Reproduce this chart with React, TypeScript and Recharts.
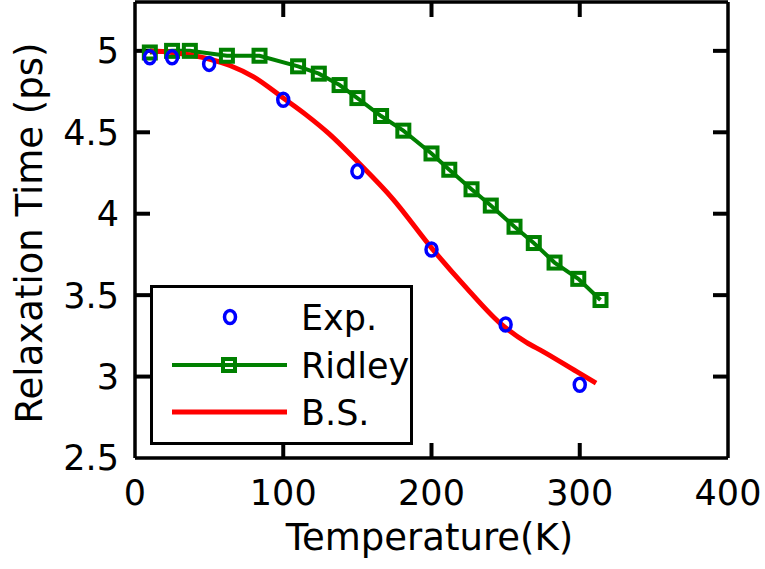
import React from 'react';
import { ComposedChart, Line, XAxis, YAxis, ReferenceLine } from 'recharts';

// Temperature (K) and relaxation time (ps)
const expT = [10, 25, 50, 100, 150, 200, 250, 300];
const expTau = [4.96, 4.96, 4.92, 4.7, 4.26, 3.78, 3.32, 2.95];

const ridleyT = [10, 25, 37, 62, 84, 110, 124, 138, 150, 166, 181, 200, 212, 227, 240, 256, 269, 283, 299, 314];
const ridleyTau = [4.99, 5.0, 5.0, 4.97, 4.97, 4.905, 4.86, 4.79, 4.71, 4.6, 4.51, 4.37, 4.27, 4.15, 4.05, 3.92, 3.82, 3.7, 3.6, 3.47];

const bsT = [10, 25, 40, 50, 64, 80, 100, 115, 131, 150, 174, 200, 224, 246, 264, 275, 298, 311];
const bsTau = [5.0, 4.99, 4.97, 4.95, 4.91, 4.84, 4.71, 4.61, 4.49, 4.32, 4.09, 3.79, 3.54, 3.33, 3.21, 3.155, 3.03, 2.96];

const xTicks = [0, 100, 200, 300, 400];
const yTicks = [2.5, 3, 3.5, 4, 4.5, 5];
const xDomain = [0, 400];
const yDomain = [2.5, 5.3];

const legendLabels = ['Exp.', 'Ridley', 'B.S.'];

const expData = expT.map((t, i) => ({ t, tau: expTau[i] }));
const ridleyData = ridleyT.map((t, i) => ({ t, tau: ridleyTau[i] }));
const bsData = bsT.map((t, i) => ({ t, tau: bsTau[i] }));

const FONT = 'DejaVu Sans';
const GREEN = '#008000';
const BLUE = '#0000ff';
const RED = '#ff0000';

// layout
const W = 765;
const H = 569;
const M = { top: 1, right: 36, bottom: 0, left: 0 };
const Y_AXIS_W = 135;
const X_AXIS_H = 111;
const TOP_H = 1;
const RIGHT_W = 1;
const PLOT_W = W - M.left - M.right - Y_AXIS_W - RIGHT_W;
const PLOT_H = H - M.top - M.bottom - X_AXIS_H - TOP_H;
const TICK_PX = 15;
const TICK_W = 4;
const dxTick = (TICK_PX * (xDomain[1] - xDomain[0])) / PLOT_W;
const dyTick = (TICK_PX * (yDomain[1] - yDomain[0])) / PLOT_H;

const innerX = xTicks.filter((v) => v > xDomain[0] && v < xDomain[1]);
const innerY = yTicks.filter((v) => v > yDomain[0] && v < yDomain[1]);

const tickSegments = [
  ...innerX.map((v) => ({ id: 'xb' + v, seg: [{ x: v, y: yDomain[0] }, { x: v, y: yDomain[0] + dyTick }] })),
  ...innerX.map((v) => ({ id: 'xt' + v, seg: [{ x: v, y: yDomain[1] }, { x: v, y: yDomain[1] - dyTick }] })),
  ...innerY.map((v) => ({ id: 'yl' + v, seg: [{ x: xDomain[0], y: v }, { x: xDomain[0] + dxTick, y: v }] })),
  ...innerY.map((v) => ({ id: 'yr' + v, seg: [{ x: xDomain[1], y: v }, { x: xDomain[1] - dxTick, y: v }] })),
];

const BottomTick = (p: any) => (
  <text x={p.x} y={p.y} dy="0.71em" textAnchor="middle" fontSize={35} fontFamily={FONT} fill="#000">
    {p.payload.value}
  </text>
);

const LeftTick = (p: any) => (
  <text x={p.x} y={p.y} dy="0.355em" textAnchor="end" fontSize={35} fontFamily={FONT} fill="#000">
    {p.payload.value}
  </text>
);

const CircleDot = (p: any) => {
  if (p.cx == null || p.cy == null) return <g key={p.index} />;
  return <ellipse key={p.index} cx={p.cx} cy={p.cy} rx={5.5} ry={6.5} fill="none" stroke={BLUE} strokeWidth={3.5} />;
};

const SquareDot = (p: any) => {
  if (p.cx == null || p.cy == null) return <g key={p.index} />;
  return (
    <rect
      key={p.index}
      x={p.cx - 6}
      y={p.cy - 6}
      width={12}
      height={12}
      fill="none"
      stroke={GREEN}
      strokeWidth={4}
    />
  );
};

const LegendBox = () => {
  const rows = [32, 80, 127];
  return (
    <div
      style={{
        position: 'absolute',
        left: 150,
        top: 285,
        width: 263,
        height: 160,
        border: '3.5px solid #000',
        boxSizing: 'border-box',
        background: '#fff',
      }}
    >
      <svg width={257} height={154} style={{ position: 'absolute', left: 0, top: 0 }}>
        <ellipse cx={77} cy={rows[0] - 3} rx={5.5} ry={6.5} fill="none" stroke={BLUE} strokeWidth={3.5} />
        <line x1={19} x2={134} y1={rows[1] - 3} y2={rows[1] - 3} stroke={GREEN} strokeWidth={4} />
        <rect x={70} y={rows[1] - 9} width={12} height={12} fill="none" stroke={GREEN} strokeWidth={4} />
        <line x1={19} x2={134} y1={rows[2] - 3} y2={rows[2] - 3} stroke={RED} strokeWidth={5} />
        {legendLabels.map((l, i) => (
          <text key={l} x={148} y={rows[i] + 10} fontSize={35} fontFamily={FONT} fill="#000">
            {l}
          </text>
        ))}
      </svg>
    </div>
  );
};

export default function App() {
  return (
    <div style={{ position: 'absolute', left: 0, top: 0, width: W, height: H }}>
      <ComposedChart width={W} height={H} margin={M}>
        <XAxis
          xAxisId="b"
          dataKey="t"
          type="number"
          domain={xDomain}
          ticks={xTicks}
          height={X_AXIS_H}
          axisLine={{ stroke: '#000', strokeWidth: 3.5 }}
          tickLine={false}
          tickSize={0}
          tickMargin={22}
          tick={BottomTick}
          interval={0}
          label={{
            content: (props: any) => {
              const vb = props.viewBox || {};
              const cx = (vb.x || 0) + (vb.width || 0) / 2;
              return (
                <text x={cx - 2} y={550} textAnchor="middle" fontSize={37} fontFamily={FONT} fill="#000">
                  Temperature(K)
                </text>
              );
            },
          }}
        />
        <XAxis
          xAxisId="top"
          orientation="top"
          type="number"
          domain={xDomain}
          height={TOP_H}
          axisLine={{ stroke: '#000', strokeWidth: 3.5 }}
          tick={false}
        />
        <YAxis
          yAxisId="l"
          dataKey="tau"
          type="number"
          domain={yDomain}
          ticks={yTicks}
          width={Y_AXIS_W}
          axisLine={{ stroke: '#000', strokeWidth: 3.5 }}
          tickLine={false}
          tickSize={0}
          tickMargin={16}
          tick={LeftTick}
          interval={0}
          label={{
            content: (props: any) => {
              const vb = props.viewBox || {};
              const cy = (vb.y || 0) + (vb.height || 0) / 2 + 3;
              const bx = 42;
              return (
                <text
                  x={bx}
                  y={cy}
                  transform={`rotate(-90 ${bx} ${cy})`}
                  textAnchor="middle"
                  fontSize={37}
                  fontFamily={FONT}
                  fill="#000"
                >
                  Relaxation Time (ps)
                </text>
              );
            },
          }}
        />
        <YAxis
          yAxisId="r"
          orientation="right"
          type="number"
          domain={yDomain}
          width={RIGHT_W}
          axisLine={{ stroke: '#000', strokeWidth: 3.5 }}
          tick={false}
        />
        {tickSegments.map((s) => (
          <ReferenceLine key={s.id} xAxisId="b" yAxisId="l" segment={s.seg} stroke="#000" strokeWidth={TICK_W} />
        ))}
        <Line
          xAxisId="b"
          yAxisId="l"
          data={ridleyData}
          dataKey="tau"
          type="linear"
          stroke={GREEN}
          strokeWidth={4}
          dot={SquareDot}
          activeDot={false}
          isAnimationActive={false}
          name="Ridley"
        />
        <Line
          xAxisId="b"
          yAxisId="l"
          data={expData}
          dataKey="tau"
          stroke="none"
          dot={CircleDot}
          activeDot={false}
          isAnimationActive={false}
          name="Exp."
        />
        <Line
          xAxisId="b"
          yAxisId="l"
          data={bsData}
          dataKey="tau"
          type="monotone"
          stroke={RED}
          strokeWidth={5}
          dot={false}
          activeDot={false}
          isAnimationActive={false}
          name="B.S."
        />
      </ComposedChart>
      <LegendBox />
    </div>
  );
}
